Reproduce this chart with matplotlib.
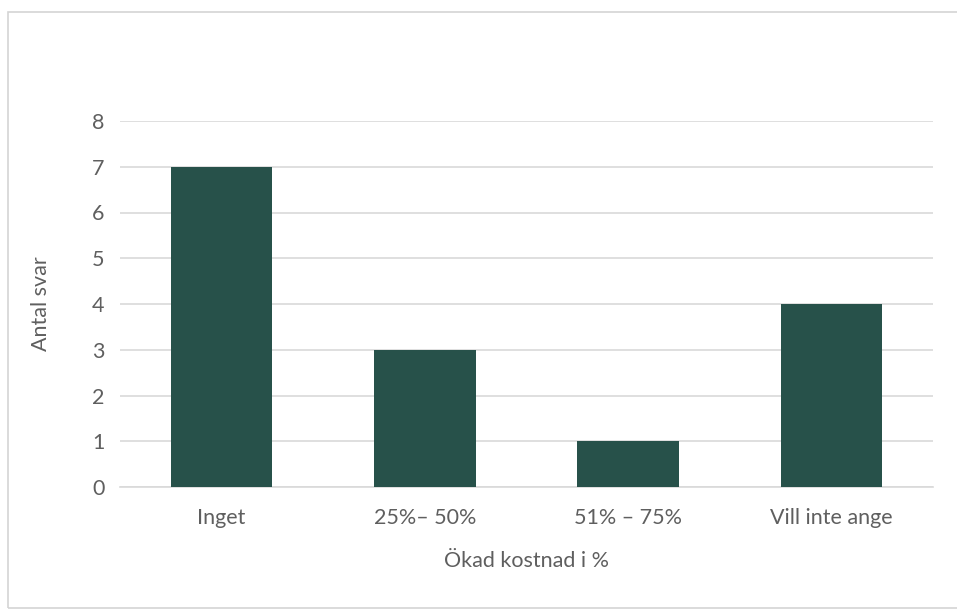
import matplotlib

matplotlib.use("Agg")
import matplotlib.pyplot as plt
from matplotlib.patches import Rectangle

CATEGORIES = ["Inget", "25%\u2013 50%", "51% \u2013 75%", "Vill inte ange"]
ANSWERS = [7, 3, 1, 4]
Y_TICKS = [0, 1, 2, 3, 4, 5, 6, 7, 8]

BAR_COLOR = "#27514a"
GRID_COLOR = "#d9d9d9"
TEXT_COLOR = "#5f5f5f"

plt.rcParams["font.family"] = ["Lato", "DejaVu Sans"]

W, H = 957, 612
fig = plt.figure(figsize=(W / 100, H / 100), dpi=100)

# chart frame around the plot
fig.patches.append(Rectangle((8 / W, 4 / H), 1.2, (596) / H, transform=fig.transFigure,
                             fill=False, edgecolor="#d4d4d4", linewidth=1.2))

ax = fig.add_axes([120 / W, (H - 487) / H, (933 - 120) / W, (487 - 121) / H])
x = range(len(CATEGORIES))
ax.bar(x, ANSWERS, width=0.5, color=BAR_COLOR, zorder=3)

ax.set_xlim(-0.5, len(CATEGORIES) - 0.5)
ax.set_ylim(0, 8)
ax.set_yticks(Y_TICKS)
ax.set_xticks(list(x))
ax.set_xticklabels(CATEGORIES)
ax.yaxis.grid(True, color=GRID_COLOR, linewidth=1.2, zorder=0)
ax.set_axisbelow(True)
for side in ("top", "right", "left"):
    ax.spines[side].set_visible(False)
ax.spines["bottom"].set_color(GRID_COLOR)
ax.spines["bottom"].set_linewidth(1.2)
ax.tick_params(axis="both", length=0, labelsize=15.5, colors=TEXT_COLOR)
ax.tick_params(axis="x", pad=15)
ax.tick_params(axis="y", pad=11)

ax.set_ylabel("Antal svar", fontsize=15.5, color=TEXT_COLOR, labelpad=30)
ax.set_xlabel("\u00d6kad kostnad i %", fontsize=15.5, color=TEXT_COLOR, labelpad=17)

fig.savefig("out.png", dpi=100)
